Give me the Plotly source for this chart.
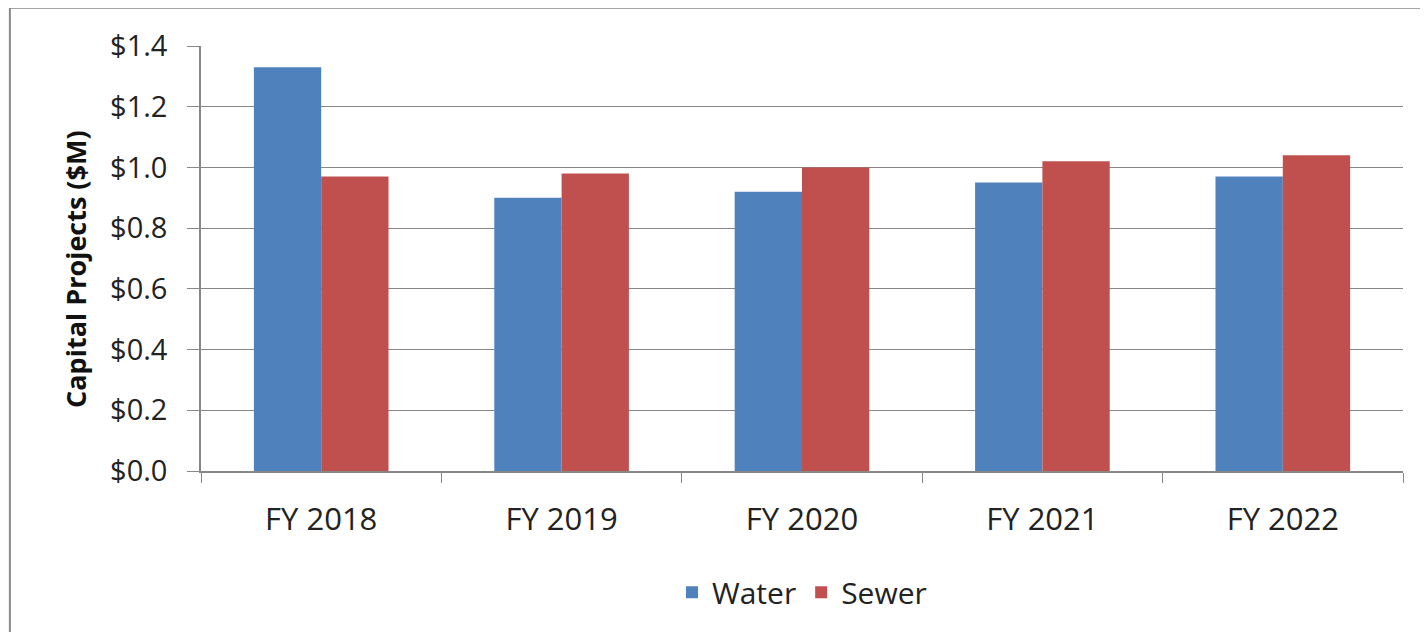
import plotly.graph_objects as go

categories = ["FY 2018", "FY 2019", "FY 2020", "FY 2021", "FY 2022"]
water = [1.33, 0.90, 0.92, 0.95, 0.97]
sewer = [0.97, 0.98, 1.00, 1.02, 1.04]
tick_vals = [0.0, 0.2, 0.4, 0.6, 0.8, 1.0, 1.2, 1.4]
tick_text = ["$0.0", "$0.2", "$0.4", "$0.6", "$0.8", "$1.0", "$1.2", "$1.4"]
y_title = "Capital Projects ($M)"

font_family = "Open Sans, Liberation Sans, sans-serif"

fig = go.Figure()
fig.add_trace(go.Bar(x=categories, y=water, name="Water", marker=dict(color="#4F81BD", line=dict(width=0))))
fig.add_trace(go.Bar(x=categories, y=sewer, name="Sewer", marker=dict(color="#C0504D", line=dict(width=0))))

fig.update_layout(
    width=1412, height=624,
    margin=dict(l=193, r=17, t=38, b=161),
    paper_bgcolor="white", plot_bgcolor="white",
    barmode="group", bargap=0.44, bargroupgap=0,
    font=dict(family=font_family, size=28, color="#222"),
    showlegend=True,
    legend=dict(orientation="h", x=0.5, xanchor="center", y=-0.285, yanchor="middle",
                font=dict(size=30, color="#222"), itemwidth=30, traceorder="normal"),
    shapes=[dict(type="rect", xref="paper", yref="paper", x0=-0.159, x1=1.1, y0=-0.4, y1=1.09,
                 line=dict(color="#888", width=2), fillcolor="rgba(0,0,0,0)", layer="below")],
    annotations=[dict(text="<b>" + y_title + "</b>", xref="paper", yref="paper",
                      x=-0.105, y=0.475, xanchor="center", yanchor="middle",
                      textangle=-90, showarrow=False, font=dict(size=27, color="#111"))],
)
fig.update_xaxes(
    showline=True, linecolor="#888", linewidth=1.5,
    ticks="outside", tickson="boundaries", ticklen=10, tickcolor="#888",
    ticklabelstandoff=20,
    tickfont=dict(size=31, color="#222"), showgrid=False,
)
fig.update_yaxes(
    range=[0, 1.4], tickvals=tick_vals, ticktext=tick_text,
    showline=True, linecolor="#888", linewidth=1.5,
    ticks="outside", ticklen=12, tickcolor="#888",
    ticklabelstandoff=14,
    showgrid=True, gridcolor="#878787", gridwidth=1.2,
    tickfont=dict(size=29, color="#222"),
    zeroline=False,
)
fig.write_html("out.html")
